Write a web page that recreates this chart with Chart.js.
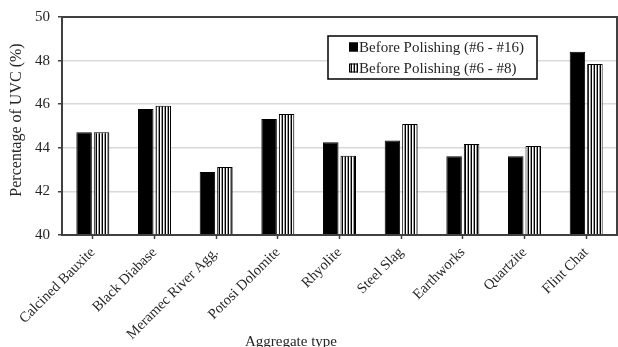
<!DOCTYPE html>
<html>
<head>
<meta charset="utf-8">
<script src="https://cdn.jsdelivr.net/npm/chart.js@4"></script>
<style>
  html, body { margin: 0; padding: 0; background: #fff; }
  canvas { display: block; }
</style>
</head>
<body>
<canvas id="c" width="618" height="347"></canvas>
<script>
// Aggregate types along the x axis
const categories = [
  'Calcined Bauxite', 'Black Diabase', 'Meramec River Agg.', 'Potosi Dolomite',
  'Rhyolite', 'Steel Slag', 'Earthworks', 'Quartzite', 'Flint Chat'
];
// UVC percentage before polishing, two gradation ranges
const before6to16 = [44.71, 45.78, 42.89, 45.32, 44.25, 44.34, 43.61, 43.61, 48.41];
const before6to8  = [44.71, 45.93, 43.12, 45.55, 43.64, 45.09, 44.17, 44.08, 47.84];
const seriesNames = ['Before Polishing (#6 - #16)', 'Before Polishing (#6 - #8)'];
const yMin = 40, yMax = 50, yStep = 2;
const yTitle = 'Percentage of UVC (%)';
const xTitle = 'Aggregate type';

const FONT = "'Liberation Serif', 'Times New Roman', serif";
const TEXT = '#262626';
const AXIS = '#404040';

// vertical-stripe fill for the second series
function stripes() {
  const c = document.createElement('canvas');
  c.width = 3; c.height = 1;
  const g = c.getContext('2d');
  g.fillStyle = '#000'; g.fillRect(0, 0, 1, 1);
  g.fillStyle = '#fff'; g.fillRect(1, 0, 1, 1);
  g.fillStyle = '#9a9a9a'; g.fillRect(2, 0, 1, 1);
  return g.createPattern(c, 'repeat');
}
const stripeFill = stripes();

// frame around the plot, legend box and axis captions
const decorations = {
  id: 'decorations',
  afterDraw(chart) {
    const ctx = chart.ctx;
    const a = chart.chartArea;
    ctx.save();
    ctx.strokeStyle = AXIS;
    ctx.lineWidth = 2;
    ctx.strokeRect(a.left, a.top, a.right - a.left, a.bottom - a.top);

    // legend
    const bx = 328, by = 36, bw = 209, bh = 43;
    ctx.fillStyle = '#fff';
    ctx.fillRect(bx, by, bw, bh);
    ctx.strokeStyle = '#000';
    ctx.lineWidth = 1.5;
    ctx.strokeRect(bx, by, bw, bh);
    ctx.font = '15px ' + FONT;
    ctx.textBaseline = 'middle';
    ctx.textAlign = 'left';
    chart.data.datasets.forEach((ds, i) => {
      const cy = by + 11.5 + i * 21;
      ctx.fillStyle = ds.backgroundColor;
      ctx.fillRect(349, cy - 5, 9, 9);
      ctx.strokeStyle = '#000';
      ctx.lineWidth = 1;
      ctx.strokeRect(349.5, cy - 4.5, 8, 8);
      ctx.fillStyle = TEXT;
      ctx.fillText(ds.label, 359, cy + 0.5);
    });

    // x-axis caption
    ctx.font = '15px ' + FONT;
    ctx.textAlign = 'center';
    ctx.textBaseline = 'alphabetic';
    ctx.fillStyle = TEXT;
    ctx.fillText(xTitle, 291, 346);

    // y-axis caption
    ctx.translate(17, 120);
    ctx.rotate(-Math.PI / 2);
    ctx.font = '16px ' + FONT;
    ctx.textBaseline = 'middle';
    ctx.fillText(yTitle, 0, 0);
    ctx.restore();
  }
};

new Chart(document.getElementById('c'), {
  type: 'bar',
  data: {
    labels: categories,
    datasets: [
      { label: seriesNames[0], data: before6to16, backgroundColor: '#000',
        borderColor: '#000', borderWidth: 1 },
      { label: seriesNames[1], data: before6to8, backgroundColor: stripeFill,
        borderColor: '#000', borderWidth: 1 }
    ]
  },
  options: {
    responsive: false,
    animation: false,
    devicePixelRatio: 1,
    categoryPercentage: 0.567,
    barPercentage: 0.886,
    layout: { padding: { top: 17, right: 1, left: 0, bottom: 0 } },
    plugins: { legend: { display: false }, tooltip: { enabled: false } },
    scales: {
      x: {
        grid: { drawOnChartArea: false, drawTicks: true, tickLength: 4,
                offset: false, tickColor: AXIS, tickWidth: 1.5 },
        border: { color: AXIS, width: 2 },
        ticks: { font: { family: FONT, size: 14.5 }, color: TEXT,
                 minRotation: 45, maxRotation: 45, autoSkip: false, padding: 5 },
        afterFit(s) { s.height = 112; }
      },
      y: {
        min: yMin, max: yMax,
        ticks: { stepSize: yStep, font: { family: FONT, size: 15 }, color: TEXT, padding: 8 },
        grid: { color: '#d9d9d9', lineWidth: 1.5, tickLength: 4, tickColor: AXIS, tickWidth: 1.5 },
        border: { color: AXIS, width: 2 },
        title: { display: false },
        afterFit(s) { s.width = 62; }
      }
    }
  },
  plugins: [decorations]
});
</script>
</body>
</html>
